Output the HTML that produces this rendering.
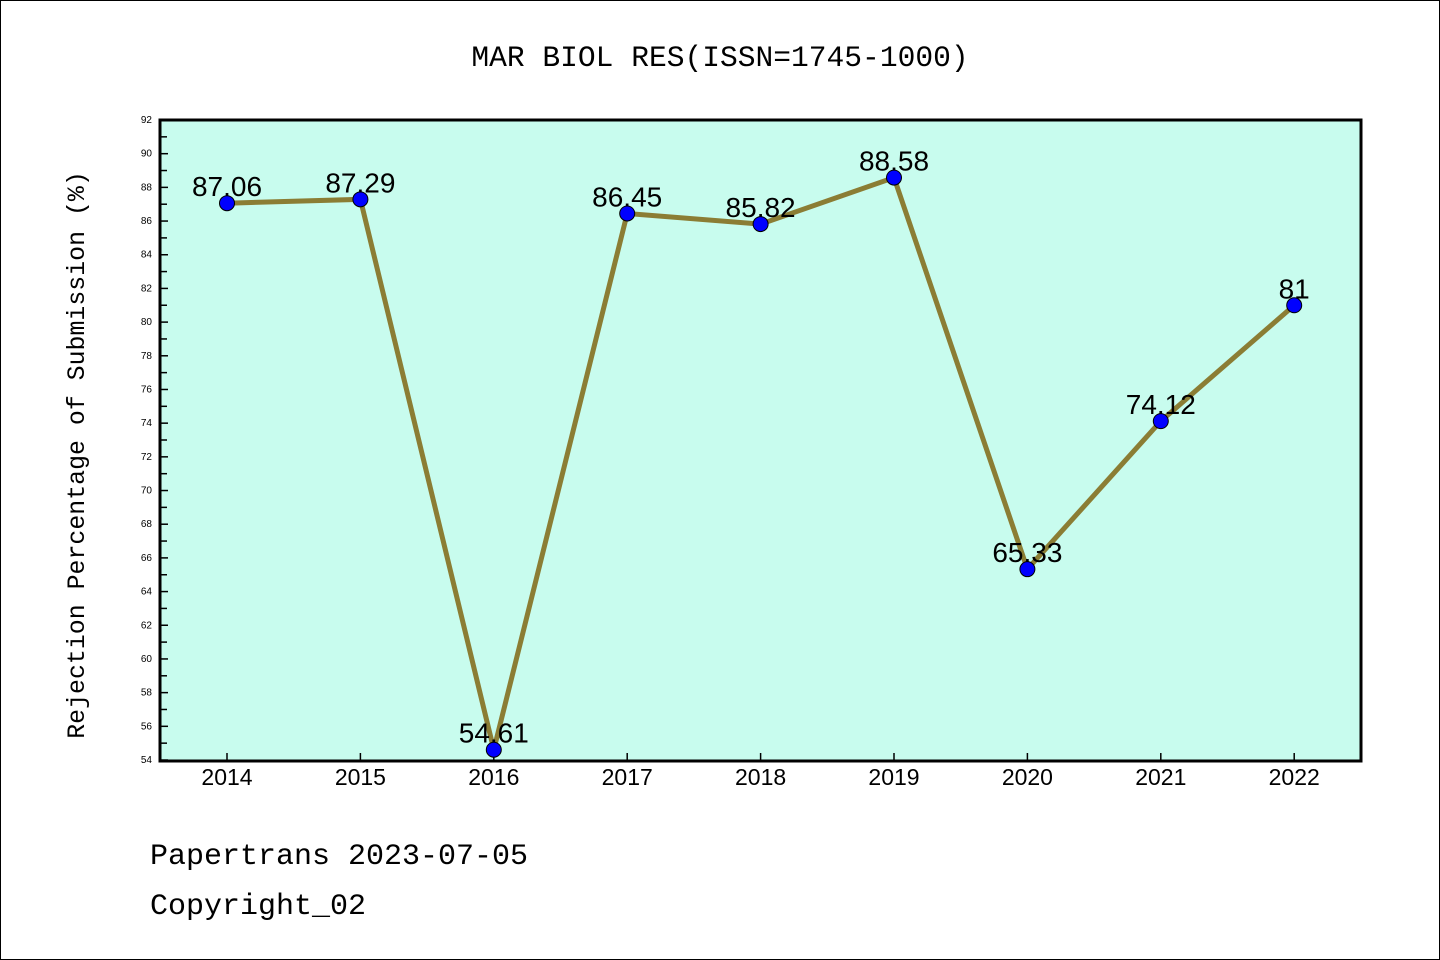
<!DOCTYPE html>
<html><head><meta charset="utf-8"><style>
body{margin:0;background:#fff}
svg{display:block;font-family:"Liberation Mono","DejaVu Sans Mono",monospace}
</style></head><body>
<svg width="1440" height="960" viewBox="0 0 1440 960">
<rect x="0.5" y="0.5" width="1439" height="959" fill="#fff" stroke="#000"/>
<text x="720" y="66" text-anchor="middle" font-size="29.6">MAR BIOL RES(ISSN=1745-1000)</text>
<rect x="160" y="120" width="1201" height="641" fill="#c8fcee" stroke="#000" stroke-width="3"/>
<g id="yaxis"></g>
<g id="xaxis"></g>
<g id="marks"></g>
<text transform="translate(84,455) rotate(-90)" text-anchor="middle" font-size="24.9">Rejection Percentage of Submission (%)</text>
<text x="150" y="864" font-size="30">Papertrans 2023-07-05</text>
<text x="150" y="914" font-size="30">Copyright_02</text>
</svg>
<script>
const years=["2014","2015","2016","2017","2018","2019","2020","2021","2022"];
const values=[87.06,87.29,54.61,86.45,85.82,88.58,65.33,74.12,81];
const labels=["87.06","87.29","54.61","86.45","85.82","88.58","65.33","74.12","81"];
const NS="http://www.w3.org/2000/svg";
const yMin=54,yMax=92;
function y(v){return 760-(v-yMin)*(640/(yMax-yMin));}
function x(i){return 227+i*133.4;}
function mk(t,a,p){const e=document.createElementNS(NS,t);for(const k in a)e.setAttribute(k,a[k]);p.appendChild(e);return e;}
const ya=document.getElementById('yaxis');
for(let v=yMin;v<=yMax;v++){
  const l=mk('line',{x1:160,x2:v%2===0?168:167,y1:y(v),y2:y(v),stroke:'#000','stroke-width':1.5},ya);
  
  
  if(v%2===0){const t=mk('text',{x:152,y:y(v)+3,'text-anchor':'end','font-size':10,'font-family':'Liberation Sans, sans-serif'},ya);t.textContent=v;
  
  }
}
const xa=document.getElementById('xaxis');
years.forEach((yr,i)=>{
  const l=mk('line',{x1:x(i),x2:x(i),y1:761,y2:753,stroke:'#000','stroke-width':1.5},xa);
  
  
  const t=mk('text',{x:x(i),y:785,'text-anchor':'middle','font-size':23,'font-family':'Liberation Sans, sans-serif'},xa);t.textContent=yr;
  
  
});
const m=document.getElementById('marks');
const pl=mk('polyline',{points:values.map((v,i)=>x(i)+','+y(v)).join(' '),fill:'none',stroke:'#8b7d34','stroke-width':5},m);


values.forEach((v,i)=>{
  const c=mk('circle',{cx:x(i),cy:y(v),r:7.5,fill:'#0000ff',stroke:'#000','stroke-width':1},m);
  
  
  const t=mk('text',{x:x(i),y:y(v)-7,'text-anchor':'middle','font-size':28,'font-family':'Liberation Sans, sans-serif'},m);t.textContent=labels[i];
  
  
});
</script>
</body></html>
